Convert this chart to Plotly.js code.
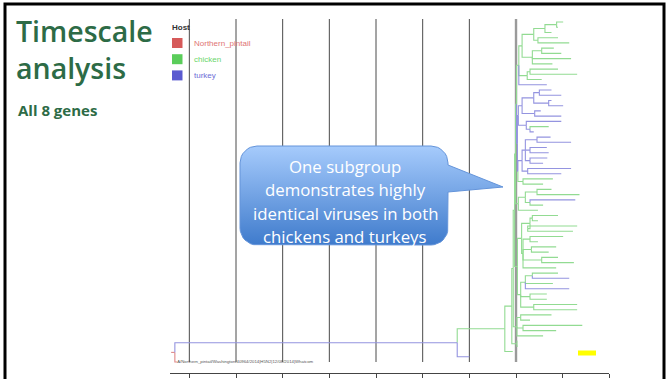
<!DOCTYPE html>
<html><head><meta charset="utf-8">
<script src="https://cdn.plot.ly/plotly-3.0.1.min.js"></script>
<style>html,body{margin:0;padding:0;background:#fff;overflow:hidden;}#chart{width:669px;height:379px;}</style>
</head><body><div id="chart"></div>
<script>
// ---- data ----
const hostNames = ['Northern_pintail', 'chicken', 'turkey'];
const hostSwatch = ['#d65a5a', '#5acd5a', '#5a5ad0'];
const hostLabelColor = ['#e07474', '#6ad66a', '#6c6cd6'];
const branchColor = ['#e08888', '#92db92', '#9494e0'];

// phylogenetic tree in pre-order: parent index, node time (axis units), host index
const nodeParent = [-1,0,1,2,3,4,5,6,7,8,
  9,10,11,12,12,11,10,16,16,9,
  19,20,20,19,19,8,25,26,26,25,
  8,7,31,32,33,34,35,35,34,38,
  38,33,41,41,32,44,44,46,46,31,
  49,50,51,52,52,51,55,55,51,58,
  58,50,61,61,49,64,64,6,67,68,
  69,69,68,72,72,67,5,76,77,78,
  79,79,78,82,82,77,85,86,86,85,
  89,89,85,92,92,85,76,96,97,98,
  98,97,97,96,103,103,96,106,106,4,
  109,110,110,109,113,113,109,3,117,117,
  2,1,0];
const nodeTime = [-0.31,5.74,6.76,6.91,6.94,6.97,6.99,7.01,7.06,7.13,
  7.38,7.62,7.87,8.01,7.90,7.76,7.47,7.90,8.14,7.35,
  7.55,7.81,7.97,8.18,7.78,7.24,7.30,7.90,8.31,7.55,
  7.66,7.03,7.05,7.13,7.38,7.50,7.76,7.97,7.70,7.76,
  8.01,7.40,7.53,7.97,7.22,7.97,7.30,7.70,7.38,7.04,
  7.13,7.20,7.45,7.74,8.18,7.30,7.66,7.70,7.30,7.67,
  7.58,7.25,8.18,7.97,7.15,7.79,7.58,7.05,7.20,7.45,
  7.76,8.36,7.30,8.27,7.58,7.47,7.03,7.12,7.30,7.35,
  7.90,7.47,7.25,8.31,8.22,7.15,7.30,8.01,7.47,7.33,
  7.86,7.70,7.55,7.90,8.24,7.86,7.10,7.20,7.35,7.90,
  8.14,7.79,8.14,7.30,7.66,7.66,7.38,8.31,8.31,7.02,
  7.10,7.76,7.30,7.15,8.42,7.86,7.58,7.02,7.03,7.04,
  6.93,6.00,-0.26];
const nodeHost = [0,2,1,1,1,1,1,1,1,1,
  1,1,1,1,1,1,1,1,1,1,
  1,1,1,1,1,1,1,1,1,1,
  2,2,2,2,2,2,2,2,2,2,
  2,2,2,2,2,2,2,1,2,2,
  2,2,2,2,2,2,2,2,2,2,
  2,2,2,2,1,1,1,1,1,1,
  1,1,1,2,1,1,1,1,1,1,
  1,1,1,1,1,1,1,1,1,1,
  1,1,1,1,1,1,1,1,1,1,
  2,1,2,1,1,1,1,1,1,1,
  1,1,1,1,1,1,1,1,1,1,
  1,2,0];
const rootStemTime = -0.39;
const pintailLabel = 'A/Northern_pintail/Washington/40964/2014|H5N2|12/08/2014|Whatcom';
const axisTicks = [0, 1, 2, 3, 4, 5, 6, 7, 8, 9];
const gridTicks = [0, 1, 2, 3, 4, 5, 6];
const markerTick = 7;
const titleLines = ['Timescale', 'analysis'];
const subtitle = 'All 8 genes';
const legendTitle = 'Host';
const calloutLines = ['One subgroup', 'demonstrates highly', 'identical viruses in both', 'chickens and turkeys'];

// ---- layout helpers (pixel geometry of the slide) ----
const W = 669, H = 379;
const plotL = 170, plotR = 609.33, plotT = 19, plotB = 373;
const pxPerUnit = 46.67;
const x0Unit = -(189.33 - plotL) / pxPerUnit;
const x1Unit = x0Unit + (plotR - plotL) / pxPerUnit;

// ---- tree layout ----
const n = nodeParent.length;
const children = Array.from({length: n}, () => []);
for (let i = 1; i < n; i++) children[nodeParent[i]].push(i);
const nodeY = new Array(n);
let leafCount = 0;
for (let i = 0; i < n; i++) if (children[i].length === 0) nodeY[i] = leafCount++;
for (let i = n - 1; i >= 0; i--) {
  if (children[i].length) {
    const c = children[i];
    nodeY[i] = (nodeY[c[0]] + nodeY[c[c.length - 1]]) / 2;
  }
}
const firstLeafPx = 22, lastLeafPx = 362;
const pxPerLeaf = (lastLeafPx - firstLeafPx) / (leafCount - 1);
const yTop = -(firstLeafPx - plotT) / pxPerLeaf;
const yBot = (leafCount - 1) + (plotB - lastLeafPx) / pxPerLeaf;

const seg = hostNames.map(() => ({x: [], y: []}));
seg[nodeHost[0]].x.push(rootStemTime, nodeTime[0], null);
seg[nodeHost[0]].y.push(nodeY[0], nodeY[0], null);
for (let i = 1; i < n; i++) {
  const p = nodeParent[i], s = seg[nodeHost[i]];
  s.x.push(nodeTime[p], nodeTime[p], nodeTime[i], null);
  s.y.push(nodeY[p], nodeY[i], nodeY[i], null);
}
const traces = seg.map((s, h) => ({
  type: 'scatter', mode: 'lines', x: s.x, y: s.y, xaxis: 'x', yaxis: 'y',
  line: {color: branchColor[h], width: 1.1}, hoverinfo: 'skip', showlegend: false
}));
const pintailIdx = n - 1;
traces.push({
  type: 'scatter', mode: 'text', x: [nodeTime[pintailIdx]], y: [nodeY[pintailIdx]],
  text: [pintailLabel], textposition: 'middle right', xaxis: 'x', yaxis: 'y',
  textfont: {size: 4.3, color: '#555', family: 'Liberation Sans'}, hoverinfo: 'skip', showlegend: false
});

// callout bubble (pixel space)
function bubble(l, t, r, b, rad, ty0, tx, ty, ty1) {
  const xs = [], ys = [];
  function arc(cx, cy, a0, a1) {
    for (let k = 0; k <= 8; k++) {
      const a = a0 + (a1 - a0) * k / 8;
      xs.push(cx + rad * Math.cos(a)); ys.push(cy + rad * Math.sin(a));
    }
  }
  arc(l + rad, t + rad, Math.PI, 1.5 * Math.PI);
  arc(r - rad, t + rad, 1.5 * Math.PI, 2 * Math.PI);
  xs.push(r, tx, r); ys.push(ty0, ty, ty1);
  arc(r - rad, b - rad, 0, 0.5 * Math.PI);
  arc(l + rad, b - rad, 0.5 * Math.PI, Math.PI);
  xs.push(xs[0]); ys.push(ys[0]);
  return {xs, ys};
}
const bb = bubble(240, 146, 448, 245, 17, 165, 503, 187, 192);
traces.push({
  type: 'scatter', mode: 'lines', x: bb.xs, y: bb.ys, xaxis: 'x2', yaxis: 'y2',
  fill: 'toself',
  fillgradient: {type: 'vertical', colorscale: [[0, '#3f7bcc'], [1, '#a6cbfc']]},
  line: {color: '#6494da', width: 1}, hoverinfo: 'skip', showlegend: false
});

const shapes = [];
// slide frame
shapes.push({type: 'rect', xref: 'x2', yref: 'y2', x0: 5, x1: 664, y0: 4, y1: 420,
  line: {color: '#000', width: 3}, fillcolor: 'rgba(0,0,0,0)', layer: 'above'});
// grid lines
gridTicks.forEach(g => shapes.push({type: 'line', xref: 'x', yref: 'paper', x0: g, x1: g,
  y0: 1 - 362 / H, y1: 1 - plotT / H, line: {color: '#4a4a4a', width: 1}, layer: 'below'}));
shapes.push({type: 'line', xref: 'x', yref: 'paper', x0: markerTick, x1: markerTick,
  y0: 1 - 362 / H, y1: 1 - plotT / H, line: {color: '#9a9a9a', width: 2.4}, layer: 'below'});
// yellow highlight
shapes.push({type: 'rect', xref: 'x2', yref: 'y2', x0: 578, x1: 596, y0: 350.5, y1: 355.5,
  line: {width: 0}, fillcolor: '#ffff00', layer: 'above'});
// legend swatches
hostNames.forEach((h, i) => shapes.push({type: 'rect', xref: 'x2', yref: 'y2',
  x0: 172, x1: 182.5, y0: 38 + i * 16.2, y1: 48 + i * 16.2, line: {width: 0}, fillcolor: hostSwatch[i]}));

const ann = [];
ann.push({xref: 'x2', yref: 'y2', x: 14, y: 49, text: titleLines.join('<br>'), showarrow: false,
  xanchor: 'left', yanchor: 'middle', align: 'left',
  font: {family: 'Open Sans', size: 28.5, color: '#2d6b46', weight: 600}});
ann.push({xref: 'x2', yref: 'y2', x: 16, y: 110, text: subtitle, showarrow: false, xanchor: 'left', yanchor: 'middle',
  font: {family: 'Open Sans', size: 15, color: '#2d6b46', weight: 700}});
ann.push({xref: 'x2', yref: 'y2', x: 170, y: 27.5, text: legendTitle, showarrow: false, xanchor: 'left', yanchor: 'middle',
  font: {family: 'Liberation Sans', size: 8, color: '#333', weight: 700}});
hostNames.forEach((h, i) => ann.push({xref: 'x2', yref: 'y2', x: 192, y: 43 + i * 16.2, text: h, showarrow: false,
  xanchor: 'left', yanchor: 'middle', font: {family: 'Liberation Sans', size: 8, color: hostLabelColor[i]}}));
calloutLines.forEach((t, i) => ann.push({xref: 'x2', yref: 'y2', x: 345, y: 166.5 + i * 23.4, text: t, showarrow: false,
  xanchor: 'center', yanchor: 'middle', font: {family: 'Open Sans', size: 16.8, color: '#ffffff'}}));

const layout = {
  width: W, height: H, margin: {l: 0, r: 0, t: 0, b: 0},
  paper_bgcolor: '#ffffff', plot_bgcolor: 'rgba(0,0,0,0)', showlegend: false,
  xaxis: {domain: [plotL / W, plotR / W], anchor: 'y', range: [x0Unit, x1Unit], autorange: false,
    tickvals: axisTicks, showticklabels: false, ticks: 'outside', ticklen: 4, tickcolor: '#444', tickwidth: 1,
    showline: true, linecolor: '#444', linewidth: 1, showgrid: false, zeroline: false, fixedrange: true},
  yaxis: {domain: [1 - plotB / H, 1 - plotT / H], anchor: 'x', range: [yBot, yTop], autorange: false,
    visible: false, showgrid: false, zeroline: false, fixedrange: true},
  xaxis2: {domain: [0, 1], anchor: 'y2', range: [0, W], visible: false, fixedrange: true},
  yaxis2: {domain: [0, 1], anchor: 'x2', range: [H, 0], visible: false, fixedrange: true},
  shapes: shapes, annotations: ann
};
Plotly.newPlot('chart', traces, layout, {displayModeBar: false, staticPlot: true});
</script></body></html>
